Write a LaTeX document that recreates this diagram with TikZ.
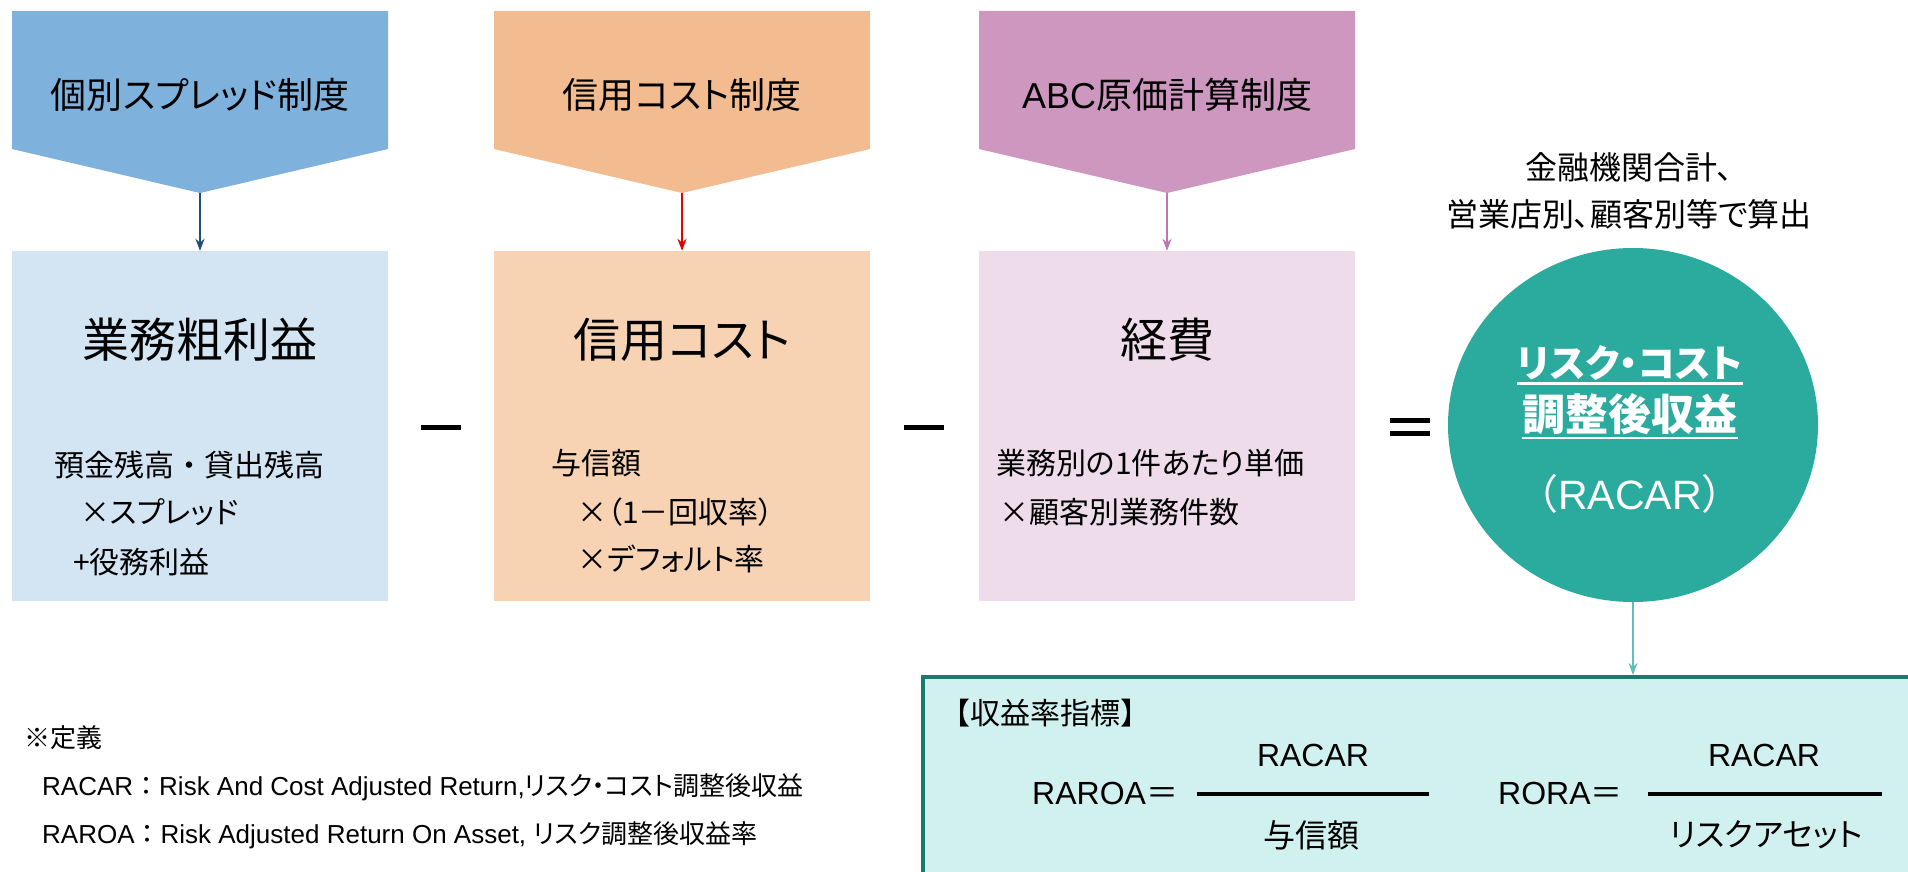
\documentclass[tikz,border=0pt]{standalone}
\usepackage{fontspec}
\setmainfont{Noto Sans CJK JP}[RawFeature=+palt]
\newfontfamily\jpfull{Noto Sans CJK JP}
\newfontfamily\arial{Liberation Sans}
\usetikzlibrary{shapes.geometric,arrows.meta}

\definecolor{sprdHead}{RGB}{126,177,220}
\definecolor{sprdBox}{RGB}{211,228,243}
\definecolor{sprdArrow}{RGB}{31,78,121}
\definecolor{credHead}{RGB}{242,188,144}
\definecolor{credBox}{RGB}{247,211,180}
\definecolor{credArrow}{RGB}{228,0,0}
\definecolor{abcHead}{RGB}{206,151,191}
\definecolor{abcBox}{RGB}{238,220,234}
\definecolor{abcArrow}{RGB}{192,116,178}
\definecolor{racarFill}{RGB}{43,171,158}
\definecolor{racarLine}{RGB}{94,192,184}
\definecolor{idxFill}{RGB}{208,241,239}
\definecolor{idxEdge}{RGB}{27,122,110}

\begin{document}
\begin{tikzpicture}[x=1pt,y=-1pt,
  box/.style={minimum width=376pt,minimum height=350pt,inner sep=0pt},
  head/.style={font=\fontsize{36}{40}\selectfont},
  ttl/.style={font=\fontsize{47}{50}\selectfont},
  body/.style={font=\fontsize{30}{34}\selectfont,anchor=west,inner sep=0pt},
  note/.style={font=\fontsize{26}{30}\selectfont,anchor=west,inner sep=0pt},
  frac/.style={font=\fontsize{32}{36}\selectfont,inner sep=0pt},
  feed/.style={line width=2.5pt,-{Stealth[length=12pt,width=9pt]}},
  opbar/.style={fill=black,minimum width=40pt,minimum height=5pt,inner sep=0pt}]
  \useasboundingbox (0,0) rectangle (1908,872);
  \clip (0,0) rectangle (1908,872);

  % heads
  \fill[sprdHead] (12,11) -- (388,11) -- (388,149) -- (200,193) -- (12,149) -- cycle;
  \fill[credHead] (494,11) -- (870,11) -- (870,149) -- (682,193) -- (494,149) -- cycle;
  \fill[abcHead] (979,11) -- (1355,11) -- (1355,149) -- (1167,193) -- (979,149) -- cycle;
  \node[head] (sprdSys) at (200,95) {個別スプレッド制度};
  \node[head] (credSys) at (682,95) {信用コスト制度};
  \node[head] (abcSys) at (1167,95) {{\arial ABC}原価計算制度};
  \coordinate (sprdTip) at (200,193);
  \coordinate (credTip) at (682,193);
  \coordinate (abcTip) at (1167,193);

  % boxes
  \node[box,fill=sprdBox] (gross) at (200,426) {};
  \node[box,fill=credBox] (credit) at (682,426) {};
  \node[box,fill=abcBox] (expense) at (1167,426) {};
  \draw[feed,sprdArrow] (sprdTip) -- (gross.north);
  \draw[feed,credArrow] (credTip) -- (credit.north);
  \draw[feed,abcArrow] (abcTip) -- (expense.north);

  \node[ttl] (grossTtl) at (200,340) {業務粗利益};
  \node[body] (grossA) at (54,465) {預金残高{\jpfull ・}貸出残高};
  \node[body] (grossB) at (80,512) {×スプレッド};
  \node[body] (grossC) at (73,562) {+役務利益};

  \node[ttl] (creditTtl) at (682,340) {信用コスト};
  \node[body] (creditA) at (551,463) {与信額};
  \node[body] (creditB) at (577,512) {×（1－回収率）};
  \node[body] (creditC) at (577,559) {×デフォルト率};

  \node[ttl] (expenseTtl) at (1167,340) {経費};
  \node[body] (expenseA) at (996,463) {業務別の1件あたり単価};
  \node[body] (expenseB) at (999,512) {×顧客別業務件数};

  % operators
  \node[opbar] (minusA) at (441,427) {};
  \node[opbar] (minusB) at (924,427) {};
  \node[opbar] (eqTop) at (1410,420) {};
  \node[opbar] (eqBot) at (1410,433) {};

  % result
  \node[font=\fontsize{32}{47}\selectfont,align=center] (scope) at (1629,191)
    {金融機関合計、\\営業店別、顧客別等で算出};
  \node[ellipse,fill=racarFill,minimum width=370pt,minimum height=354pt,inner sep=0pt] (racar) at (1633,425) {};
  \node[text=white,font=\bfseries\fontsize{38}{44}\selectfont,inner sep=0pt] (riskA) at (1630,363) {リスク・コスト};
  \node[text=white,font=\bfseries\fontsize{43}{48}\selectfont,inner sep=0pt] (riskB) at (1630,414) {調整後収益};
  \draw[white,line width=2.5pt] ([yshift=-3pt]riskA.south west) -- ([yshift=-3pt]riskA.south east);
  \draw[white,line width=2.5pt] ([yshift=-3pt]riskB.south west) -- ([yshift=-3pt]riskB.south east);
  \node[text=white,font=\jpfull\fontsize{41}{46}\selectfont,inner sep=0pt] (racarAbbr) at (1630,494) {（{\arial RACAR}）};

  % indices
  \node[draw=idxEdge,line width=4pt,fill=idxFill,minimum width=1010pt,minimum height=260pt,
    anchor=north west] (idx) at (921,675) {};
  \draw[feed,racarLine] (racar.south) -- (racar.south |- idx.north);
  \node[font=\jpfull\fontsize{30}{33}\selectfont,anchor=west,inner sep=0pt] (idxTtl) at (940,713) {【収益率指標】};
  \node[frac,anchor=west] (raroa) at (1032,793) {{\arial RAROA}＝};
  \node[frac] (raroaNum) at (1313,755) {\arial RACAR};
  \node[frac] (raroaDen) at (1311,835) {与信額};
  \coordinate (raroaL) at (1197,794);
  \coordinate (raroaR) at (1429,794);
  \draw[line width=3.5pt] (raroaL) -- (raroaR);
  \node[frac,anchor=west] (rora) at (1498,793) {{\arial RORA}＝};
  \node[frac] (roraNum) at (1764,755) {\arial RACAR};
  \node[frac] (roraDen) at (1766,835) {リスクアセット};
  \coordinate (roraL) at (1648,794);
  \coordinate (roraR) at (1882,794);
  \draw[line width=3.5pt] (roraL) -- (roraR);

  % definitions
  \node[note] (defs) at (24,738) {※定義};
  \node[note] (defA) at (42,787) {{\arial RACAR}{\jpfull ：}{\arial Risk And Cost Adjusted Return,}リスク・コスト調整後収益};
  \node[note] (defB) at (42,835) {{\arial RAROA}{\jpfull ：}{\arial Risk Adjusted Return On Asset, }リスク調整後収益率};
  \node[note] (defC) at (42,886) {{\arial RORA}{\jpfull ：}{\arial Return On Risk-weighted Asset, }リスクアセット対比収益率};
\end{tikzpicture}
\end{document}
